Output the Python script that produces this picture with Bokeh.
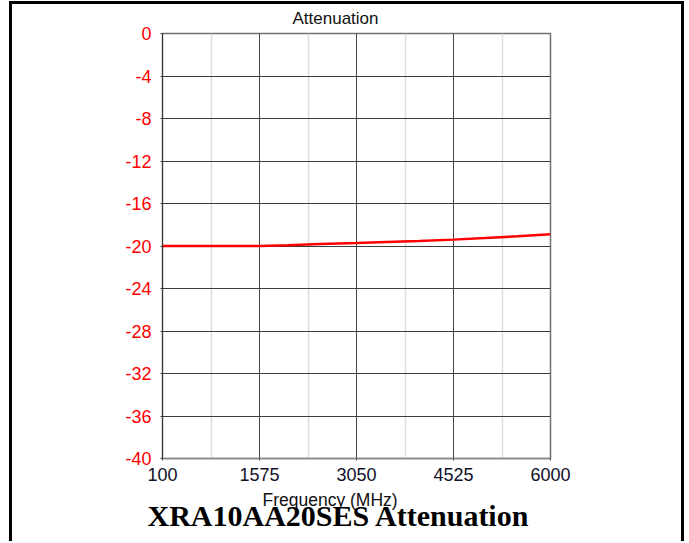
from bokeh.plotting import figure
from bokeh.models import FixedTicker, Range1d, Title
from bokeh.embed import file_html
from bokeh.resources import INLINE

freq_mhz = [100, 500, 1000, 1575, 2000, 2500, 3050, 3500, 4000, 4525, 5000, 5500, 6000]
atten_db = [-20.0, -20.0, -20.0, -20.0, -19.94, -19.82, -19.72, -19.62, -19.53, -19.4, -19.25, -19.08, -18.9]
x_ticks = [100, 1575, 3050, 4525, 6000]
x_minor = [837.5, 2312.5, 3787.5, 5262.5]
y_ticks = [0, -4, -8, -12, -16, -20, -24, -28, -32, -36, -40]
y_tick_labels = ["0", "-4", "-8", "-12", "-16", "-20", "-24", "-28", "-32", "-36", "-40"]

W, H = 673, 527
FL, FR, FT, FB = 162, 550, 33, 458   # frame edges in pixels

p = figure(width=W, height=H, output_backend="svg", toolbar_location=None,
           x_range=Range1d(100, 6000), y_range=Range1d(-40, 0),
           min_border_left=FL, min_border_right=W - FR, min_border_top=FT, min_border_bottom=H - FB)
p.background_fill_color = "white"
p.border_fill_color = "white"
p.outline_line_color = "#707070"
p.outline_line_width = 1.5

p.line(freq_mhz, atten_db, line_color="#ff0000", line_width=2.5)

FONT = "Liberation Sans"
xa = p.xaxis[0]
xa.ticker = FixedTicker(ticks=x_ticks, minor_ticks=[])
xa.major_label_text_font = FONT
xa.major_label_text_font_size = "18px"
xa.major_label_text_color = "#101028"
xa.axis_line_color = "#8a8a8a"
xa.axis_line_width = 1.5
xa.major_tick_line_color = "#444444"
xa.major_tick_in = 0
xa.major_tick_out = 2
xa.minor_tick_line_color = None
xa.major_label_standoff = 7

ya = p.yaxis[0]
ya.ticker = FixedTicker(ticks=y_ticks, minor_ticks=[])
ya.major_label_overrides = {t: s for t, s in zip(y_ticks, y_tick_labels)}
ya.major_label_text_font = FONT
ya.major_label_text_font_size = "18px"
ya.major_label_text_color = "#ff0000"
ya.axis_line_color = "#333333"
ya.major_tick_line_color = "#333333"
ya.major_tick_in = 0
ya.major_tick_out = 2
ya.minor_tick_line_color = None
ya.major_label_standoff = 9

p.xgrid.ticker = FixedTicker(ticks=x_ticks[1:-1], minor_ticks=x_minor)
p.xgrid.grid_line_color = "#444444"
p.xgrid.minor_grid_line_color = "#dddddd"
p.xgrid.minor_grid_line_width = 1.5
p.ygrid.ticker = FixedTicker(ticks=y_ticks[1:-1], minor_ticks=[])
p.ygrid.grid_line_color = "#3c3c3c"

# titles
p.add_layout(Title(text="Attenuation", align="left", offset=292 - FL, standoff=11,
                   text_font=FONT, text_font_size="17px", text_font_style="normal",
                   text_color="#111111"), "above")
p.add_layout(Title(text="Frequency (MHz)", align="left", offset=262 - FL, standoff=8,
                   text_font=FONT, text_font_size="17.5px", text_font_style="normal",
                   text_color="#111111"), "below")
p.add_layout(Title(text="XRA10AA20SES Attenuation", align="left", offset=147 - FL, standoff=-34,
                   text_font="Liberation Serif", text_font_size="30px", text_font_style="bold",
                   text_color="#000000"), "below")

# page frame lines (left, top, right) drawn as a host overlay
p.stylesheets = [
    ":host { position: relative; overflow: visible; }"
    ":host::before { content: ''; position: absolute; left: 9px; top: 1px; width: 675px; height: 540px;"
    " box-sizing: border-box; border-left: 3px solid black; border-top: 3px solid black;"
    " border-right: 3px solid black; pointer-events: none; z-index: 10; }"
]

open("out.html", "w").write(file_html(p, INLINE))
